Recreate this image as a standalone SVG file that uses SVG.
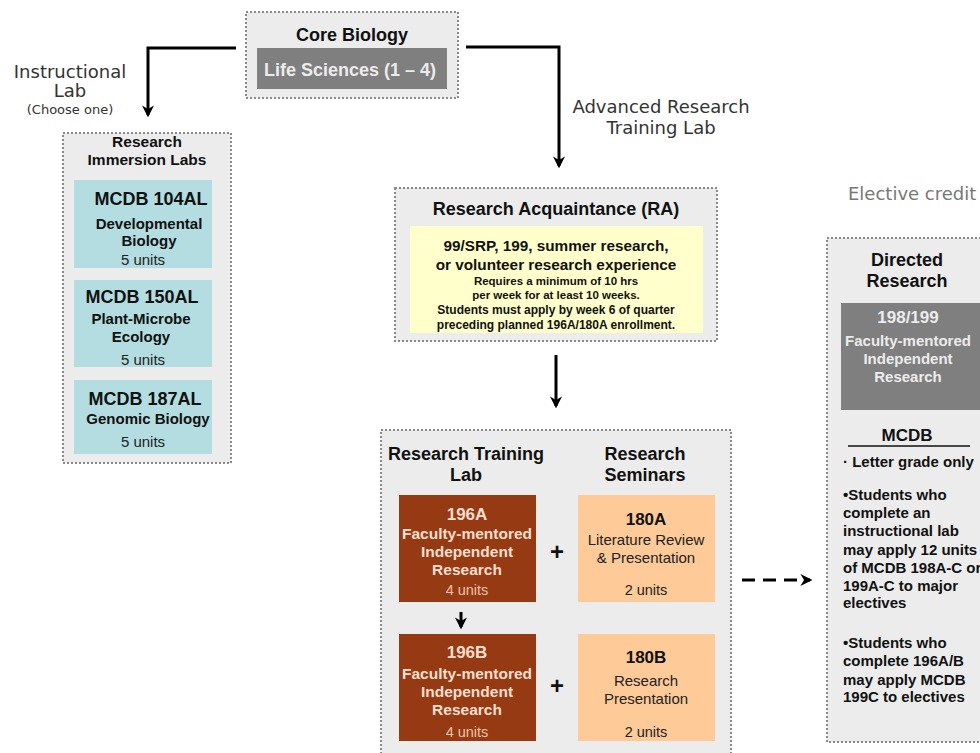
<svg xmlns="http://www.w3.org/2000/svg" width="980" height="753" viewBox="0 0 980 753">
<defs>
<style>
.frame{fill:#ececec;stroke:#8a8a8a;stroke-width:2;stroke-dasharray:2 2}
.b{font-family:"Liberation Sans",Arial,sans-serif;font-weight:bold;text-anchor:middle;fill:#111}
.r{font-family:"Liberation Sans",Arial,sans-serif;text-anchor:middle;fill:#222}
.v{font-family:"DejaVu Sans",Verdana,sans-serif;text-anchor:middle;fill:#333}
.teal{fill:#b3dde0}
.brown{fill:#963a13}
.peach{fill:#fdca98}
.gray{fill:#7f7f7f}
.line{stroke:#000;stroke-width:3;fill:none}
.note{font-family:"Liberation Sans",Arial,sans-serif;font-weight:bold;font-size:15px;fill:#111}
</style>
<marker id="ah" viewBox="0 0 10 10" refX="8" refY="5" markerWidth="4" markerHeight="4" orient="auto" markerUnits="strokeWidth">
<path d="M0,0 L10,5 L0,10 L3,5 Z" fill="#000"/>
</marker>
</defs>
<rect width="980" height="753" fill="#fff"/>

<g id="label-instructional">
<text class="v" x="70" y="78" font-size="18">Instructional</text>
<text class="v" x="70" y="97" font-size="18">Lab</text>
<text class="v" x="70" y="114" font-size="13">(Choose one)</text>
</g>
<g id="label-advanced">
<text class="v" x="661" y="113" font-size="18">Advanced Research</text>
<text class="v" x="661" y="134" font-size="18">Training Lab</text>
</g>
<g id="label-elective">
<text x="848" y="200" font-family="DejaVu Sans,Verdana,sans-serif" font-size="18" fill="#777">Elective credit</text>
</g>

<g id="core-biology">
<rect class="frame" x="246" y="12" width="212" height="86"/>
<text class="b" x="352" y="41" font-size="18">Core Biology</text>
<rect class="gray" x="257" y="48" width="190" height="41"/>
<text class="b" x="350" y="76" font-size="18" style="fill:#ececec">Life Sciences (1 – 4)</text>
</g>

<g id="immersion-labs">
<rect class="frame" x="63" y="133" width="168" height="330"/>
<text class="b" x="147" y="147" font-size="15.5">Research</text>
<text class="b" x="147" y="165" font-size="15.5">Immersion Labs</text>
<g id="mcdb104al">
<rect class="teal" x="74" y="180" width="138" height="88"/>
<text class="b" x="151" y="205" font-size="18">MCDB 104AL</text>
<text class="b" x="149" y="229" font-size="15">Developmental</text>
<text class="b" x="149" y="246" font-size="15">Biology</text>
<text class="r" x="143" y="265" font-size="15">5 units</text>
</g>
<g id="mcdb150al">
<rect class="teal" x="74" y="280" width="138" height="87"/>
<text class="b" x="142" y="303" font-size="18">MCDB 150AL</text>
<text class="b" x="141" y="324" font-size="15">Plant-Microbe</text>
<text class="b" x="141" y="342" font-size="15">Ecology</text>
<text class="r" x="143" y="365" font-size="15">5 units</text>
</g>
<g id="mcdb187al">
<rect class="teal" x="74" y="380" width="138" height="74"/>
<text class="b" x="145" y="405" font-size="18">MCDB 187AL</text>
<text class="b" x="148" y="424" font-size="15">Genomic Biology</text>
<text class="r" x="143" y="447" font-size="15">5 units</text>
</g>
</g>

<g id="research-acquaintance">
<rect class="frame" x="395" y="188" width="322" height="153"/>
<text class="b" x="556" y="215" font-size="18">Research Acquaintance (RA)</text>
<rect x="410" y="226" width="293" height="107" fill="#ffffcb"/>
<text class="b" x="556" y="251" font-size="15.3">99/SRP, 199, summer research,</text>
<text class="b" x="556" y="270" font-size="15.3">or volunteer research experience</text>
<text class="b" x="556" y="285" font-size="11.5">Requires a minimum of 10 hrs</text>
<text class="b" x="556" y="299" font-size="11.5">per week for at least 10 weeks.</text>
<text class="b" x="556" y="314" font-size="12">Students must apply by week 6 of quarter</text>
<text class="b" x="556" y="329" font-size="12">preceding planned 196A/180A enrollment.</text>
</g>

<g id="training">
<rect class="frame" x="381" y="430" width="350" height="330"/>
<text class="b" x="466" y="460" font-size="18">Research Training</text>
<text class="b" x="466" y="481" font-size="18">Lab</text>
<text class="b" x="645" y="460" font-size="18">Research</text>
<text class="b" x="645" y="481" font-size="18">Seminars</text>
<g id="c196a">
<rect class="brown" x="399" y="495" width="137" height="107"/>
<text class="b" x="467" y="520" font-size="17" style="fill:#f8dfcf">196A</text>
<text class="b" x="467" y="539" font-size="15.5" style="fill:#f8dfcf">Faculty-mentored</text>
<text class="b" x="467" y="557" font-size="15.5" style="fill:#f8dfcf">Independent</text>
<text class="b" x="467" y="575" font-size="15.5" style="fill:#f8dfcf">Research</text>
<text class="r" x="467" y="595" font-size="14.5" style="fill:#efc3a6">4 units</text>
</g>
<text class="b" x="557" y="560" font-size="24">+</text>
<g id="c180a">
<rect class="peach" x="578" y="495" width="137" height="107"/>
<text class="b" x="646" y="525" font-size="17">180A</text>
<text class="r" x="646" y="545" font-size="15">Literature Review</text>
<text class="r" x="646" y="563" font-size="15">&amp; Presentation</text>
<text class="r" x="646" y="595" font-size="14.5">2 units</text>
</g>
<g id="c196b">
<rect class="brown" x="399" y="634" width="137" height="107"/>
<text class="b" x="467" y="658" font-size="17" style="fill:#f8dfcf">196B</text>
<text class="b" x="467" y="679" font-size="15.5" style="fill:#f8dfcf">Faculty-mentored</text>
<text class="b" x="467" y="697" font-size="15.5" style="fill:#f8dfcf">Independent</text>
<text class="b" x="467" y="715" font-size="15.5" style="fill:#f8dfcf">Research</text>
<text class="r" x="467" y="737" font-size="14.5" style="fill:#efc3a6">4 units</text>
</g>
<text class="b" x="557" y="694" font-size="24">+</text>
<g id="c180b">
<rect class="peach" x="578" y="634" width="137" height="107"/>
<text class="b" x="646" y="663" font-size="17">180B</text>
<text class="r" x="646" y="686" font-size="15">Research</text>
<text class="r" x="646" y="704" font-size="15">Presentation</text>
<text class="r" x="646" y="737" font-size="14.5">2 units</text>
</g>
</g>

<g id="directed-research">
<rect class="frame" x="827" y="238" width="170" height="504"/>
<text class="b" x="907" y="266" font-size="18">Directed</text>
<text class="b" x="907" y="287" font-size="18">Research</text>
<rect class="gray" x="841" y="303" width="145" height="107"/>
<text class="b" x="908" y="323" font-size="17" style="fill:#ececec">198/199</text>
<text class="b" x="908" y="346" font-size="15" style="fill:#ececec">Faculty-mentored</text>
<text class="b" x="908" y="364" font-size="15" style="fill:#ececec">Independent</text>
<text class="b" x="908" y="382" font-size="15" style="fill:#ececec">Research</text>
<text class="b" x="907" y="441" font-size="17">MCDB</text>
<line x1="848" y1="446" x2="970" y2="446" stroke="#111" stroke-width="1.5"/>
<text class="note" x="843" y="467">· Letter grade only</text>
<text class="note" x="843" y="500">•Students who</text>
<text class="note" x="843" y="518">complete an</text>
<text class="note" x="843" y="536">instructional lab</text>
<text class="note" x="843" y="555">may apply 12 units</text>
<text class="note" x="843" y="573">of MCDB 198A-C or</text>
<text class="note" x="843" y="591">199A-C to major</text>
<text class="note" x="843" y="608">electives</text>
<text class="note" x="843" y="648">•Students who</text>
<text class="note" x="843" y="666">complete 196A/B</text>
<text class="note" x="843" y="685">may apply MCDB</text>
<text class="note" x="843" y="702">199C to electives</text>
</g>

<g id="connectors">
<polyline class="line" points="236,48 148,48 148,115" marker-end="url(#ah)"/>
<polyline class="line" points="466,47 559,47 559,166" marker-end="url(#ah)"/>
<line class="line" x1="556" y1="355" x2="556" y2="406" marker-end="url(#ah)"/>
<line x1="461" y1="612" x2="461" y2="627" stroke="#000" stroke-width="3" marker-end="url(#ah)"/>
<line x1="742" y1="580" x2="810" y2="580" stroke="#000" stroke-width="3" stroke-dasharray="13 8" marker-end="url(#ah)"/>
</g>
</svg>
